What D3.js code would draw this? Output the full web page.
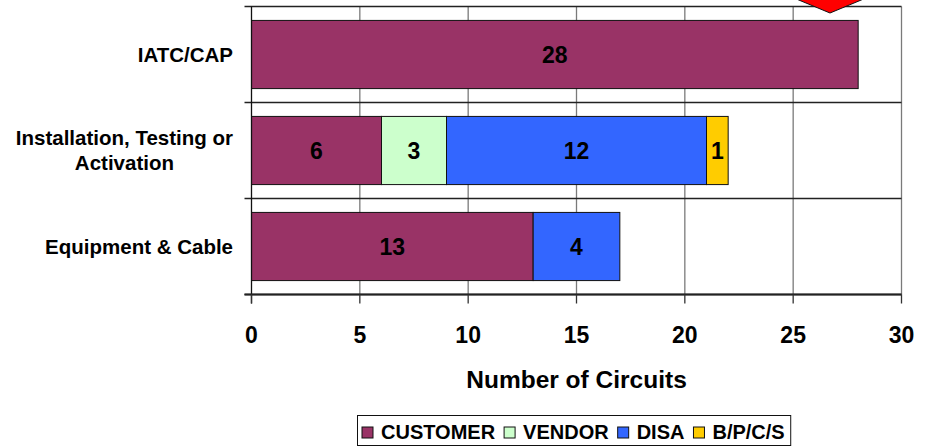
<!DOCTYPE html>
<html>
<head>
<meta charset="utf-8">
<script src="https://cdn.jsdelivr.net/npm/d3@7"></script>
<style>
  body { margin: 0; background: #fff; }
  svg { display: block; font-family: "Liberation Sans", Arial, sans-serif; font-weight: bold; }
</style>
</head>
<body>
<div id="chart"></div>
<script>
var categories = ["IATC/CAP", "Installation, Testing or Activation", "Equipment & Cable"];
var labelLines = [["IATC/CAP"], ["Installation, Testing or", "Activation"], ["Equipment & Cable"]];
var seriesNames = ["CUSTOMER", "VENDOR", "DISA", "B/P/C/S"];
var customer = [28, 6, 13];
var vendor = [0, 3, 0];
var disa = [0, 12, 4];
var bpcs = [0, 1, 0];
var xTicks = [0, 5, 10, 15, 20, 25, 30];
var colors = ["#993366", "#CCFFCC", "#3366FF", "#FFCC00"];
var arrowValue = 26.7; // red marker cut off at the top

(function(){

    var width = 934;
    var height = 447;
    var margin = { top: 6.5, left: 251.5, right: 32.5, bottom: 152.5 };

    var svg = d3.select("#chart")
        .append("svg")
            .attr("width", width)
            .attr("height", height);

    var rows = categories.map(function(c, i){
        return { cat: c, CUSTOMER: customer[i], VENDOR: vendor[i], DISA: disa[i], "B/P/C/S": bpcs[i] };
    });

    var x = d3.scaleLinear()
        .domain([0, 30])
        .range([margin.left, width - margin.right]);

    var y = d3.scaleBand()
        .domain(categories)
        .range([margin.top, height - margin.bottom])
        .paddingInner(0.29)
        .paddingOuter(0.145);

    var colour = d3.scaleOrdinal().domain(seriesNames).range(colors);

    var stacked = d3.stack().keys(seriesNames)(rows);

    var top = margin.top, bottom = height - margin.bottom;
    var step = y.step();
    var bounds = d3.range(categories.length + 1).map(function(i){ return top + i * step; });

    // vertical gridlines
    svg.append("g").selectAll("line")
        .data(xTicks.slice(1))
        .enter().append("line")
            .attr("x1", function(d){ return x(d); })
            .attr("x2", function(d){ return x(d); })
            .attr("y1", top)
            .attr("y2", bottom)
            .attr("stroke", "#7a7a7a")
            .attr("stroke-width", 1.3);

    // horizontal category lines
    svg.append("g").selectAll("line")
        .data(bounds)
        .enter().append("line")
            .attr("x1", margin.left - 7)
            .attr("x2", x(30))
            .attr("y1", function(d){ return d; })
            .attr("y2", function(d){ return d; })
            .attr("stroke", "#222")
            .attr("stroke-width", 1.3);

    // bars
    var layer = svg.append("g").selectAll("g")
        .data(stacked)
        .enter().append("g")
            .attr("fill", function(d){ return colour(d.key); });

    layer.selectAll("rect")
        .data(function(d){ return d; })
        .enter().append("rect")
            .filter(function(d){ return d[1] - d[0] > 0; })
            .attr("x", function(d){ return x(d[0]); })
            .attr("y", function(d){ return y(d.data.cat); })
            .attr("width", function(d){ return x(d[1]) - x(d[0]); })
            .attr("height", y.bandwidth())
            .attr("stroke", "#111")
            .attr("stroke-width", 1);

    layer.selectAll("text")
        .data(function(d){ return d; })
        .enter().append("text")
            .filter(function(d){ return d[1] - d[0] > 0; })
            .attr("x", function(d){ return x((d[0] + d[1]) / 2); })
            .attr("y", function(d){ return y(d.data.cat) + y.bandwidth() / 2 + 8.5; })
            .attr("text-anchor", "middle")
            .attr("fill", "#000")
            .style("font-size", "23px")
            .text(function(d){ return d[1] - d[0]; });

    // axes lines and ticks
    svg.append("line")
        .attr("x1", x(0)).attr("x2", x(0))
        .attr("y1", top).attr("y2", bottom + 9)
        .attr("stroke", "#111").attr("stroke-width", 1.3);

    svg.append("line")
        .attr("x1", x(0) - 7).attr("x2", x(30))
        .attr("y1", bottom).attr("y2", bottom)
        .attr("stroke", "#222").attr("stroke-width", 2);

    svg.append("g").selectAll("line")
        .data(xTicks)
        .enter().append("line")
            .attr("x1", function(d){ return x(d); })
            .attr("x2", function(d){ return x(d); })
            .attr("y1", bottom)
            .attr("y2", bottom + 9)
            .attr("stroke", "#333")
            .attr("stroke-width", 1.3);

    svg.append("g").selectAll("text")
        .data(xTicks)
        .enter().append("text")
            .attr("x", function(d){ return x(d); })
            .attr("y", 343)
            .attr("text-anchor", "middle")
            .style("font-size", "23px")
            .text(function(d){ return d; });

    svg.append("text")
        .attr("x", (x(0) + x(30)) / 2)
        .attr("y", 388)
        .attr("text-anchor", "middle")
        .style("font-size", "24.5px")
        .text("Number of Circuits");

    // category labels: block right aligned, lines centred in block
    var labelRight = 233;
    categories.forEach(function(c, i){
        var lines = labelLines[i];
        var g = svg.append("g");
        var texts = g.selectAll("text")
            .data(lines)
            .enter().append("text")
                .style("font-size", "20.5px")
                .attr("text-anchor", "middle")
                .text(function(d){ return d; });
        var maxW = 0;
        texts.each(function(){ maxW = Math.max(maxW, this.getComputedTextLength()); });
        var cy = y(c) + y.bandwidth() / 2;
        texts
            .attr("x", labelRight - maxW / 2)
            .attr("y", function(d, j){ return cy + 7 + (j - (lines.length - 1) / 2) * 25; });
    });

    // red marker at top
    var ax = x(arrowValue);
    svg.append("polygon")
        .attr("points", [[ax - 36, -2], [ax + 36, -2], [ax, 13]].join(" "))
        .attr("fill", "#ff0000")
        .attr("stroke", "#111")
        .attr("stroke-width", 1);

    // legend
    var legend = svg.append("g");
    var lx = 362;
    seriesNames.forEach(function(s){
        legend.append("rect")
            .attr("x", lx).attr("y", 427)
            .attr("width", 11).attr("height", 11)
            .attr("fill", colour(s))
            .attr("stroke", "#111");
        var t = legend.append("text")
            .attr("x", lx + 19)
            .attr("y", 439)
            .style("font-size", "20px")
            .text(s);
        lx = lx + 19 + t.node().getComputedTextLength() + 9;
    });
    legend.insert("rect", ":first-child")
        .attr("x", 357.5).attr("y", 415.5)
        .attr("width", lx - 357.5 - 3).attr("height", 30)
        .attr("fill", "#fff")
        .attr("stroke", "#111")
        .attr("stroke-width", 1);
})();
</script>
</body>
</html>
